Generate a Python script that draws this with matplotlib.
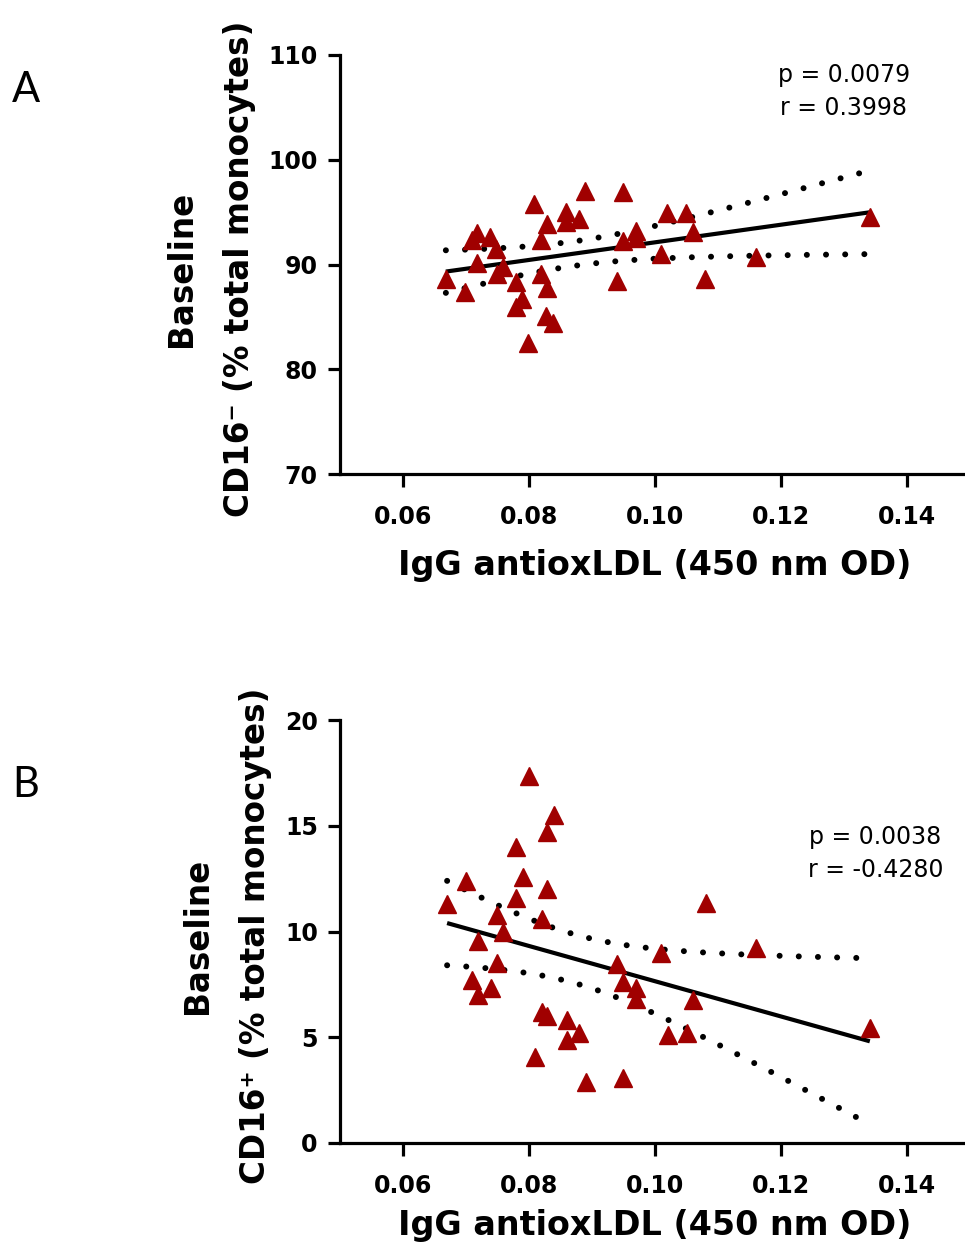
import numpy as np
import matplotlib
matplotlib.use("Agg")
import matplotlib.pyplot as plt

# IgG antioxLDL (450 nm OD) vs baseline CD16- / CD16+ monocytes
xa = [0.0668, 0.0698, 0.0717, 0.0710, 0.0738, 0.0717, 0.0748, 0.0749, 0.0759,
      0.0779, 0.0789, 0.0779, 0.0798, 0.0808, 0.0819, 0.0819, 0.0828, 0.0828,
      0.0827, 0.0838, 0.0859, 0.0859, 0.0879, 0.0889, 0.0940, 0.0949, 0.0949,
      0.0970, 0.0970, 0.1009, 0.1019, 0.1049, 0.1060, 0.1079, 0.1160, 0.1341]
ya = [88.6, 87.4, 93.0, 92.3, 92.6, 90.1, 91.5, 89.1, 89.8,
      88.3, 86.7, 85.9, 82.5, 95.8, 92.3, 89.1, 87.8, 93.9,
      85.1, 84.4, 95.0, 94.1, 94.3, 97.0, 88.4, 96.9, 92.2,
      93.2, 92.5, 91.0, 94.9, 94.9, 93.1, 88.6, 90.7, 94.5]

xb = [0.0670, 0.0700, 0.0719, 0.0710, 0.0719, 0.0740, 0.0749, 0.0749, 0.0759,
      0.0779, 0.0790, 0.0779, 0.0800, 0.0810, 0.0821, 0.0821, 0.0829, 0.0829,
      0.0829, 0.0840, 0.0860, 0.0860, 0.0879, 0.0890, 0.0940, 0.0949, 0.0949,
      0.0970, 0.0970, 0.1010, 0.1021, 0.1051, 0.1060, 0.1081, 0.1160, 0.1341]
yb = [11.28, 12.37, 9.53, 7.73, 7.01, 7.35, 10.8, 8.53, 10.0,
      14.0, 12.6, 11.6, 17.35, 4.08, 10.6, 6.2, 6.0, 14.7,
      12.0, 15.5, 5.83, 4.88, 5.2, 2.89, 8.44, 3.08, 7.63,
      7.35, 6.82, 9.0, 5.12, 5.2, 6.78, 11.33, 9.2, 5.45]

xticks = [0.06, 0.08, 0.10, 0.12, 0.14]
yticks_a = [70, 80, 90, 100, 110]
yticks_b = [0, 5, 10, 15, 20]
stats_a = "p = 0.0079\nr = 0.3998"
stats_b = "p = 0.0038\nr = -0.4280"

red = "#A00000"
T975 = 2.032  # t quantile, df = 34


def fit_bands(x, y):
    x = np.asarray(x)
    y = np.asarray(y)
    n = len(x)
    b, a = np.polyfit(x, y, 1)
    resid = y - (a + b * x)
    s = np.sqrt(np.sum(resid ** 2) / (n - 2))
    sxx = np.sum((x - x.mean()) ** 2)
    xs = np.linspace(x.min(), x.max(), 200)
    yh = a + b * xs
    se = s * np.sqrt(1.0 / n + (xs - x.mean()) ** 2 / sxx)
    return xs, yh, yh - T975 * se, yh + T975 * se


def panel(ax, x, y, yticks, ylabel, stats, stats_pos, ylab_x, xlabpad):
    xs, yh, lo, hi = fit_bands(x, y)
    ax.plot(xs, yh, color="black", lw=3.0, solid_capstyle="butt", zorder=3)
    for band in (lo, hi):
        ax.plot(xs, band, color="black", lw=4.3, linestyle=(0, (0.01, 3.2)),
                dash_capstyle="round", zorder=3)
    ax.plot(x, y, linestyle="none", marker="^", ms=13, color=red,
            mec=red, clip_on=False, zorder=4)

    ax.set_xlim(0.05, 0.15)
    ax.set_ylim(yticks[0], yticks[-1])
    ax.set_xticks(xticks)
    ax.set_xticklabels(["%.2f" % v for v in xticks])
    ax.set_yticks(yticks)
    for sp in ("top", "right"):
        ax.spines[sp].set_visible(False)
    for sp in ("left", "bottom"):
        ax.spines[sp].set_linewidth(2.3)
    ax.tick_params(width=2.3, length=9, labelsize=17)
    ax.tick_params(axis="x", pad=13)
    ax.tick_params(axis="y", pad=7)
    for lab in ax.get_xticklabels() + ax.get_yticklabels():
        lab.set_fontweight("bold")

    ax.set_xlabel("IgG antioxLDL (450 nm OD)", fontsize=24, fontweight="bold",
                  labelpad=xlabpad)
    ax.set_ylabel(ylabel, fontsize=23.5, fontweight="bold", linespacing=1.95,
                  va="center")
    ax.yaxis.set_label_coords(ylab_x, 0.49)

    ax.text(stats_pos[0], stats_pos[1], stats, transform=ax.transAxes,
            ha="center", va="center", fontsize=17, linespacing=1.45,
            multialignment="center")


fig = plt.figure(figsize=(9.65, 12.47), dpi=100)
ax1 = fig.add_axes([340 / 965, 1 - 474 / 1247, 630 / 965, 419 / 1247])
ax2 = fig.add_axes([340 / 965, 1 - 1143 / 1247, 630 / 965, 423 / 1247])

panel(ax1, xa, ya, yticks_a, "Baseline\nCD16\u207b (% total monocytes)",
      stats_a, (0.80, 0.913), -0.205, 15)
panel(ax2, xb, yb, yticks_b, "Baseline\nCD16\u207a (% total monocytes)",
      stats_b, (0.85, 0.684), -0.18, 8)

fig.text(26 / 965, 1 - 90 / 1247, "A", fontsize=30, family="Lato",
         ha="center", va="center")
fig.text(26 / 965, 1 - 785 / 1247, "B", fontsize=30, family="Lato",
         ha="center", va="center")

fig.savefig("out.png", dpi=100)
